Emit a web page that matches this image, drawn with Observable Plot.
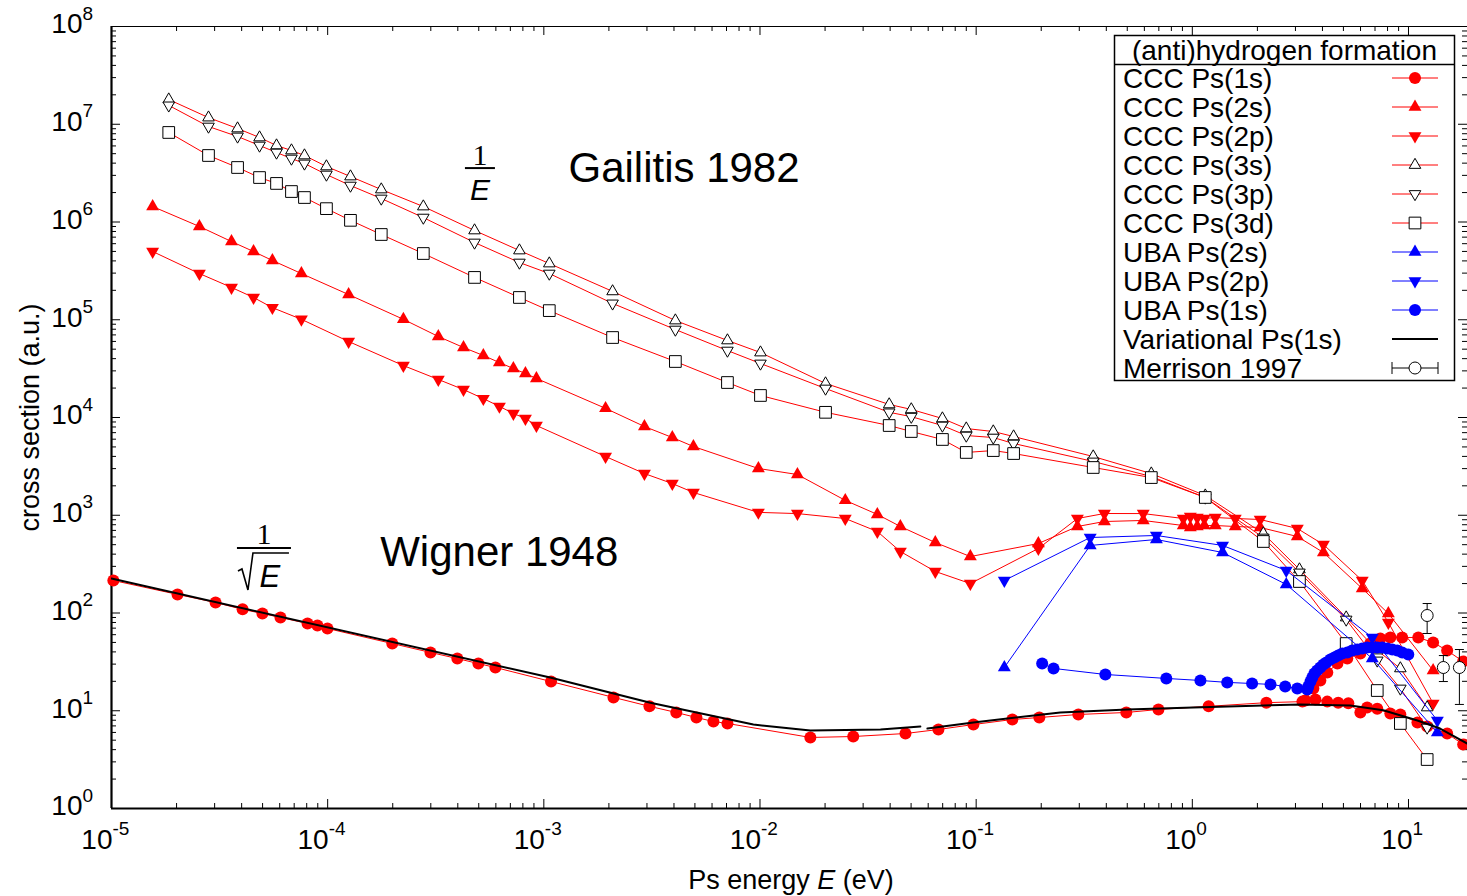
<!DOCTYPE html>
<html>
<head>
<meta charset="utf-8">
<script src="https://cdn.jsdelivr.net/npm/d3@7"></script>
<script src="https://cdn.jsdelivr.net/npm/@observablehq/plot@0.6"></script>
<style>
  body { margin: 0; background: #fff; }
  #chart { width: 1467px; height: 896px; }
</style>
</head>
<body>
<div id="chart"></div>
<script>
// ---- CCC Ps(2s) / Ps(2p): shared energy grid (eV) and cross sections (a.u.)
const cccE2 = [1.55e-5, 2.55e-5, 3.59e-5, 4.54e-5, 5.55e-5, 7.56e-5, 1.25e-4, 2.24e-4, 3.25e-4, 4.25e-4,
  5.25e-4, 6.23e-4, 7.23e-4, 8.22e-4, 9.24e-4, 1.93e-3, 2.92e-3, 3.93e-3, 4.92e-3, 9.83e-3,
  1.49e-2, 2.48e-2, 3.49e-2, 4.46e-2, 6.47e-2, 9.4e-2, 0.194, 0.294, 0.392, 0.593,
  0.908, 0.979, 1.054, 1.136, 1.277, 1.58, 2.06, 3.06, 4.04, 6.11, 8.07, 13.0];
const ccc2s = [1.44e6, 9.0e5, 6.31e5, 4.99e5, 4.04e5, 2.97e5, 1.81e5, 1.01e5, 6.74e4, 5.2e4,
  4.31e4, 3.65e4, 3.17e4, 2.82e4, 2.51e4, 1.24e4, 8.09e3, 6.24e3, 5.05e3, 3.01e3,
  2.61e3, 1.42e3, 1.02e3, 768, 526, 378, 514, 767, 863, 884,
  785, 750, 767, 785, 785, 767, 750, 606, 416, 178, 98.8, 25.8];
const ccc2p = [4.99e5, 2.97e5, 2.14e5, 1.69e5, 1.33e5, 1.01e5, 5.99e4, 3.4e4, 2.45e4, 1.93e4,
  1.56e4, 1.30e4, 1.10e4, 9.77e3, 8.28e3, 3.99e3, 2.67e3, 2.11e3, 1.71e3, 1.07e3,
  1.04e3, 926, 682, 426, 266, 200, 457, 926, 1042, 1040,
  926, 972, 950, 926, 948, 926, 905, 732, 502, 215, 80, 11.9];

// ---- CCC Ps(3s) / Ps(3p) / Ps(3d)
const cccE3 = [1.84e-5, 2.81e-5, 3.83e-5, 4.84e-5, 5.80e-5, 6.80e-5, 7.81e-5, 9.87e-5, 1.275e-4, 1.77e-4,
  2.77e-4, 4.78e-4, 7.71e-4, 1.06e-3, 2.08e-3, 4.06e-3, 7.07e-3, 1.005e-2, 2.01e-2, 3.96e-2,
  5.01e-2, 6.98e-2, 9.0e-2, 0.120, 0.149, 0.348, 0.646, 1.148, 2.13, 3.13,
  5.15, 7.17, 9.17, 12.2];
const ccc3s = [1.79e7, 1.17e7, 9.05e6, 7.32e6, 6.06e6, 5.39e6, 4.79e6, 3.70e6, 2.92e6, 2.15e6,
  1.44e6, 8.19e5, 5.11e5, 3.76e5, 1.95e5, 9.82e4, 6.14e4, 4.62e4, 2.23e4, 1.36e4,
  1.21e4, 9.77e3, 7.71e3, 7.19e3, 6.39e3, 3.99e3, 2.67e3, 1.59e3, 651, 279,
  89.9, 41.3, 27.1, 10.8];
const ccc3p = [1.56e7, 9.48e6, 7.50e6, 6.06e6, 5.14e6, 4.46e6, 3.97e6, 3.06e6, 2.36e6, 1.74e6,
  1.11e6, 6.17e5, 3.85e5, 2.97e5, 1.47e5, 7.94e4, 4.84e4, 3.57e4, 1.98e4, 1.13e4,
  1.02e4, 8.28e3, 6.54e3, 6.24e3, 5.42e3, 3.55e3, 2.49e3, 1.52e3, 592, 260,
  85.8, 32.7, 16.9, 6.74];
const ccc3d = [8.24e6, 4.79e6, 3.61e6, 2.85e6, 2.48e6, 2.05e6, 1.78e6, 1.37e6, 1.04e6, 7.45e5,
  4.76e5, 2.71e5, 1.69e5, 1.24e5, 6.58e4, 3.74e4, 2.28e4, 1.68e4, 1.13e4, 8.28e3,
  7.19e3, 5.96e3, 4.39e3, 4.59e3, 4.28e3, 3.08e3, 2.43e3, 1.52e3, 539, 210,
  48.7, 16.1, 7.41, 3.17];

// ---- CCC Ps(1s): [E, sigma]
const ccc1s = [[1.02e-5, 215], [2.02e-5, 155], [3.03e-5, 128], [4.04e-5, 109], [4.99e-5, 98.8],
  [6.05e-5, 89.9], [8.07e-5, 78.1], [8.97e-5, 74.5], [9.98e-5, 69.4], [1.99e-4, 48.7],
  [2.99e-4, 39.5], [3.98e-4, 34.2], [4.98e-4, 30.4], [5.97e-4, 27.7], [1.08e-3, 19.9],
  [2.10e-3, 13.7], [3.08e-3, 11.1], [4.10e-3, 9.60], [5.08e-3, 8.53], [6.09e-3, 7.76],
  [7.07e-3, 7.41], [1.71e-2, 5.33], [2.70e-2, 5.45], [4.71e-2, 5.85], [6.69e-2, 6.43],
  [9.71e-2, 7.23], [0.147, 8.14], [0.196, 8.53], [0.297, 9.16], [0.495, 9.60],
  [0.697, 10.3], [1.19, 11.1], [2.20, 12.1], [3.23, 12.4], [3.71, 13.0],
  [4.21, 12.4], [4.73, 12.1], [5.27, 11.9], [5.99, 9.60], [6.44, 10.8],
  [7.17, 10.5], [8.24, 9.37], [9.17, 9.16], [11.0, 7.58], [12.2, 6.90],
  [15.1, 5.85], [17.9, 4.52]];
// CCC Ps(1s), rising branch above 3 eV
const ccc1sRise = [[3.33, 12.7], [3.63, 16.9], [3.91, 20.4], [4.21, 24.6], [4.69, 30.4],
  [5.21, 34.2], [5.99, 38.5], [6.65, 48.7], [7.41, 54.8], [8.24, 56.2],
  [9.35, 56.2], [11.1, 56.2], [13.0, 49.9], [15.1, 41.3], [17.9, 31.9]];

// ---- UBA
const ubaE = [0.135, 0.337, 0.682, 1.38, 2.72, 6.80, 13.6];
const uba2s = [27.7, 491, 565, 416, 196, 34.2, 5.99];
const uba2p = [215, 592, 621, 491, 272, 56.2, 7.95];
const uba1s = [[0.202, 30.4], [0.228, 27.1], [0.396, 23.5], [0.758, 21.4], [1.09, 20.4],
  [1.45, 19.5], [1.89, 19.0], [2.30, 18.6], [2.69, 17.7], [3.06, 16.9], [3.40, 16.5],
  [3.44, 17.7], [3.52, 19.9], [3.59, 21.9], [3.67, 24.0], [3.78, 25.8], [3.91, 27.7],
  [4.04, 29.7], [4.17, 31.2], [4.35, 33.4], [4.54, 35.1], [4.73, 36.7], [4.94, 38.5],
  [5.21, 39.5], [5.49, 41.3], [5.79, 42.3], [6.11, 43.3], [6.44, 44.4], [6.80, 44.4],
  [7.17, 44.4], [7.56, 44.4], [7.98, 43.3], [8.41, 42.3], [8.87, 41.3], [9.35, 39.5],
  [9.98, 37.6]];

// ---- Variational Ps(1s), two computed pieces
const variationalLow = [[1e-5, 225], [1.07e-3, 21.9], [3.11e-3, 12.1], [9.32e-3, 7.23],
  [1.71e-2, 6.28], [3.61e-2, 6.43], [5.52e-2, 6.90]];
const variationalHigh = [[5.95e-2, 6.58], [9.71e-2, 7.58], [0.245, 9.60], [0.500, 10.3],
  [1.01, 10.8], [3.16, 11.6], [5.38, 11.3], [7.64, 10.1], [11.0, 7.95], [14.0, 6.58], [18.7, 4.62]];

// ---- Merrison 1997 measurements: [E, sigma, low, high]
const merrison = [[12.2, 94.3, 61.7, 125], [14.5, 27.7, 19.9, 36.7], [17.2, 27.7, 11.6, 42.3]];

// ---- axes
const xDecades = [-5, -4, -3, -2, -1, 0, 1];
const yDecades = [0, 1, 2, 3, 4, 5, 6, 7, 8];
const minorSteps = [2, 3, 4, 5, 6, 7, 8, 9];

// ---- text annotations
const notes = [
  {text: "Gailitis 1982", E: 1.30e-3, s: 3.52e6},
  {text: "Wigner 1948", E: 1.75e-4, s: 416}
];
const fractions = [
  {E: 5.09e-4, s: 3.52e6, root: false},
  {E: 5.10e-5, s: 457, root: true}
];

const FONT = "'Liberation Sans', Arial, Helvetica, sans-serif";
const RED = "#ff0000", BLUE = "#0000ff";
const W = 1467, H = 896;
const M = {top: 26, right: 0, bottom: 88, left: 111};
const plotW = W - M.left - M.right, plotH = H - M.top - M.bottom;
const xMax = 18.75;

const sq3 = Math.sqrt(3);
const triangleDown = {
  draw(ctx, size) {
    const h = Math.sqrt(size / (sq3 * 3));
    ctx.moveTo(0, 2 * h); ctx.lineTo(-sq3 * h, -h); ctx.lineTo(sq3 * h, -h); ctx.closePath();
  }
};
const capBar = {
  draw(ctx, size) {
    const w = Math.sqrt(size / Math.PI);
    ctx.moveTo(-w, 0); ctx.lineTo(w, 0);
  }
};

const rows = arr => arr.map(([E, s]) => ({E, s}));
const zip = (E, s) => E.map((e, i) => ({E: e, s: s[i]}));

const series = [
  {label: "CCC Ps(1s)", segments: [rows(ccc1s), rows(ccc1sRise)], color: RED, symbol: "circle", r: 6, filled: true},
  {label: "CCC Ps(2s)", segments: [zip(cccE2, ccc2s)], color: RED, symbol: "triangle", r: 4.8, filled: true},
  {label: "CCC Ps(2p)", segments: [zip(cccE2, ccc2p)], color: RED, symbol: triangleDown, r: 4.8, filled: true},
  {label: "CCC Ps(3s)", segments: [zip(cccE3, ccc3s)], color: RED, symbol: "triangle", r: 4.3, filled: false},
  {label: "CCC Ps(3p)", segments: [zip(cccE3, ccc3p)], color: RED, symbol: triangleDown, r: 4.3, filled: false},
  {label: "CCC Ps(3d)", segments: [zip(cccE3, ccc3d)], color: RED, symbol: "square", r: 6.6, filled: false},
  {label: "UBA Ps(2s)", segments: [zip(ubaE, uba2s)], color: BLUE, symbol: "triangle", r: 4.8, filled: true},
  {label: "UBA Ps(2p)", segments: [zip(ubaE, uba2p)], color: BLUE, symbol: triangleDown, r: 4.8, filled: true},
  {label: "UBA Ps(1s)", segments: [rows(uba1s)], color: BLUE, symbol: "circle", r: 6, filled: true}
];

const xMajor = xDecades.map(d => 10 ** d);
const xMinor = xDecades.flatMap(d => minorSteps.map(k => k * 10 ** d)).filter(v => v <= xMax);
const yMajor = yDecades.map(d => 10 ** d);
const yMinor = yDecades.slice(0, -1).flatMap(d => minorSteps.map(k => k * 10 ** d));

const xLab = {frameAnchor: "bottom", lineAnchor: "middle"};
const yLab = {frameAnchor: "left", lineAnchor: "middle"};

const marks = [
  // inward ticks on all four sides
  Plot.ruleX(xMajor, {insetTop: plotH - 9, stroke: "black"}),
  Plot.ruleX(xMinor, {insetTop: plotH - 5, stroke: "black"}),
  Plot.ruleX(xMajor, {insetBottom: plotH - 9, stroke: "black"}),
  Plot.ruleX(xMinor, {insetBottom: plotH - 5, stroke: "black"}),
  Plot.ruleY(yMajor, {insetRight: plotW - 9, stroke: "black"}),
  Plot.ruleY(yMinor, {insetRight: plotW - 5, stroke: "black"}),
  Plot.ruleY(yMajor, {insetLeft: plotW - 9, stroke: "black"}),
  Plot.ruleY(yMinor, {insetLeft: plotW - 5, stroke: "black"}),
  // border
  Plot.ruleY([1e8], {stroke: "black", strokeWidth: 1.2}),
  Plot.ruleX([1e-5], {stroke: "black", strokeWidth: 2.2}),
  Plot.ruleY([1], {stroke: "black", strokeWidth: 2.2}),
  // tick labels: x
  Plot.text(xDecades.filter(d => d < 0), {...xLab, x: d => 10 ** d, text: () => "10", textAnchor: "end", dx: 1, dy: 32, fontSize: 28}),
  Plot.text(xDecades.filter(d => d >= 0), {...xLab, x: d => 10 ** d, text: () => "10", textAnchor: "end", dx: 4, dy: 32, fontSize: 28}),
  Plot.text(xDecades.filter(d => d < 0), {...xLab, x: d => 10 ** d, text: d => `${d}`, textAnchor: "start", dx: 1, dy: 20, fontSize: 19}),
  Plot.text(xDecades.filter(d => d >= 0), {...xLab, x: d => 10 ** d, text: d => `${d}`, textAnchor: "start", dx: 4, dy: 20, fontSize: 19}),
  // tick labels: y
  Plot.text(yDecades, {...yLab, y: d => 10 ** d, text: () => "10", textAnchor: "end", dx: -29, dy: -2, fontSize: 28}),
  Plot.text(yDecades, {...yLab, y: d => 10 ** d, text: d => `${d}`, textAnchor: "start", dx: -29, dy: -13, fontSize: 19}),
  // y axis title
  Plot.text(["cross section (a.u.)"], {...yLab, text: d => d, textAnchor: "middle", rotate: -90, dx: -81, fontSize: 27}),
  // annotations
  Plot.text(notes, {x: "E", y: "s", text: "text", textAnchor: "start", lineAnchor: "middle", fontSize: 42})
];

for (const sr of series) {
  for (const seg of sr.segments) {
    marks.push(Plot.line(seg, {x: "E", y: "s", stroke: sr.color, strokeWidth: 1, clip: true}));
    marks.push(Plot.dot(seg, {
      x: "E", y: "s", symbol: sr.symbol, r: sr.r,
      fill: sr.filled ? sr.color : "white",
      stroke: sr.filled ? "none" : "black", strokeWidth: 1
    }));
  }
}
for (const seg of [variationalLow, variationalHigh]) {
  marks.push(Plot.line(rows(seg), {x: "E", y: "s", stroke: "black", strokeWidth: 2, clip: true}));
}
const merr = merrison.map(([E, s, lo, hi]) => ({E, s, lo, hi}));
marks.push(
  Plot.ruleX(merr, {x: "E", y1: "lo", y2: "hi", stroke: "black", strokeWidth: 1}),
  Plot.dot(merr, {x: "E", y: "lo", symbol: capBar, r: 4.5, fill: "none", stroke: "black", strokeWidth: 1}),
  Plot.dot(merr, {x: "E", y: "hi", symbol: capBar, r: 4.5, fill: "none", stroke: "black", strokeWidth: 1}),
  Plot.dot(merr, {x: "E", y: "s", symbol: "circle", r: 6, fill: "white", stroke: "black", strokeWidth: 1})
);

const chart = Plot.plot({
  width: W, height: H,
  marginTop: M.top, marginRight: M.right, marginBottom: M.bottom, marginLeft: M.left,
  style: {fontFamily: FONT, background: "white", color: "black"},
  x: {type: "log", domain: [1e-5, xMax], axis: null},
  y: {type: "log", domain: [1, 1e8], axis: null},
  marks
});
document.getElementById("chart").appendChild(chart);

const svg = d3.select(chart);
const sx = chart.scale("x"), sy = chart.scale("y");

// x axis title with italic E
const xt = svg.append("text")
  .attr("x", 791).attr("y", 880)
  .attr("text-anchor", "middle").attr("dominant-baseline", "central")
  .attr("font-family", FONT).attr("font-size", 27).attr("fill", "black");
xt.append("tspan").text("Ps energy ");
xt.append("tspan").attr("font-style", "italic").text("E");
xt.append("tspan").text(" (eV)");

// threshold-law fractions 1/E and 1/sqrt(E)
for (const f of fractions) {
  const g = svg.append("g").attr("transform", `translate(${sx.apply(f.E)},${sy.apply(f.s)})`)
    .attr("text-anchor", "middle");
  const half = f.root ? 27 : 15;
  g.append("line").attr("x1", -half).attr("x2", half).attr("stroke", "black").attr("stroke-width", 2);
  g.append("text").attr("y", -14).attr("dominant-baseline", "central")
    .attr("font-family", "'Liberation Serif', 'Times New Roman', serif").attr("font-size", 30).text("1");
  if (f.root) {
    g.append("path").attr("d", "M-26,23L-22,21L-16,42L-11,5L25,5")
      .attr("fill", "none").attr("stroke", "black").attr("stroke-width", 1.6);
    g.append("text").attr("x", 6).attr("y", 29).attr("dominant-baseline", "central")
      .attr("font-family", FONT).attr("font-style", "italic").attr("font-size", 31).text("E");
  } else {
    g.append("text").attr("x", 0).attr("y", 21).attr("dominant-baseline", "central")
      .attr("font-family", FONT).attr("font-style", "italic").attr("font-size", 30).text("E");
  }
}

// key
const key = svg.append("g").attr("font-family", FONT).attr("font-size", 28).attr("text-anchor", "start");
key.append("rect").attr("x", 1114.5).attr("y", 35.5).attr("width", 340).attr("height", 345)
  .attr("fill", "white").attr("stroke", "black").attr("stroke-width", 1.5);
key.append("line").attr("x1", 1114.5).attr("x2", 1454.5).attr("y1", 64.5).attr("y2", 64.5)
  .attr("stroke", "black").attr("stroke-width", 1.5);
key.append("text").attr("x", 1284.5).attr("y", 50).attr("text-anchor", "middle")
  .attr("dominant-baseline", "central").text("(anti)hydrogen formation");

const keyRows = [
  ...series.map(sr => ({label: sr.label, color: sr.color, symbol: sr.symbol, r: sr.r, filled: sr.filled})),
  {label: "Variational Ps(1s)", color: "black", width: 2},
  {label: "Merrison 1997", color: "black", errorbar: true}
];
const d3Symbol = s => s === "circle" ? d3.symbolCircle : s === "triangle" ? d3.symbolTriangle : s === "square" ? d3.symbolSquare : s;
keyRows.forEach((k, i) => {
  const y = 78 + 29 * i;
  key.append("text").attr("x", 1123).attr("y", y).attr("dominant-baseline", "central").text(k.label);
  key.append("line").attr("x1", 1392).attr("x2", 1438).attr("y1", y).attr("y2", y)
    .attr("stroke", k.color).attr("stroke-width", k.width || 1);
  if (k.symbol) {
    key.append("path").attr("transform", `translate(1415,${y})`)
      .attr("d", d3.symbol(d3Symbol(k.symbol), Math.PI * k.r * k.r)())
      .attr("fill", k.filled ? k.color : "white")
      .attr("stroke", k.filled ? "none" : "black").attr("stroke-width", 1);
  }
  if (k.errorbar) {
    for (const x of [1392, 1438]) {
      key.append("line").attr("x1", x).attr("x2", x).attr("y1", y - 6).attr("y2", y + 6)
        .attr("stroke", "black").attr("stroke-width", 1);
    }
    key.append("circle").attr("cx", 1415).attr("cy", y).attr("r", 6)
      .attr("fill", "white").attr("stroke", "black").attr("stroke-width", 1);
  }
});
</script>
</body>
</html>
